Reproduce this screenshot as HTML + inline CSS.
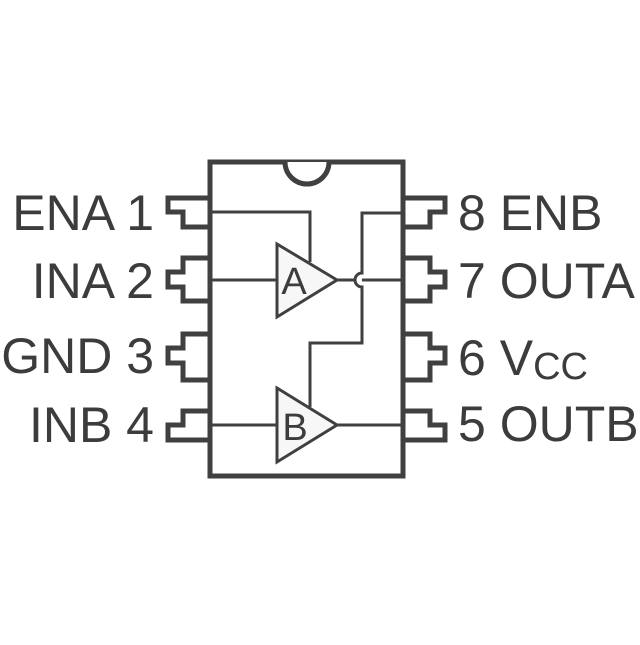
<!DOCTYPE html>
<html><head><style>html,body{margin:0;padding:0;background:#fff}</style></head>
<body>
<svg width="640" height="640" viewBox="0 0 640 640" xmlns="http://www.w3.org/2000/svg">
<g fill="none" stroke="#404040" stroke-width="5" stroke-linejoin="miter">
<rect x="210" y="162" width="193" height="314" fill="#fff"/>
<path d="M285 162 A22 22 0 0 0 329 162" fill="#fff"/>
<path d="M210 198 H168 V212 H183 V227 H210"/>
<path d="M210 258 H183 V272 H168 V287 H183 V301 H210"/>
<path d="M210 334 H183 V348 H168 V363 H183 V380 H210"/>
<path d="M210 411 H183 V425 H168 V440 H210"/>
<path d="M403 198 H445 V212 H430 V227 H403"/>
<path d="M403 258 H430 V272 H445 V287 H430 V301 H403"/>
<path d="M403 334 H430 V348 H445 V363 H430 V380 H403"/>
<path d="M403 411 H430 V425 H445 V440 H403"/>
<g stroke-width="3">
<path d="M210 212 H310 V262"/>
<path d="M210 280 H277"/>
<path d="M337 280 H356 M362 280 H403"/>
<path d="M403 213 H362 V273 A7 7 0 0 0 362 287 V343 H310 V407"/>
<path d="M210 425 H277"/>
<path d="M337 425 H403"/>
<path d="M277 244 L337 280 L277 317 Z" fill="#f7f7f7"/>
<path d="M277 388 L337 425 L277 462 Z" fill="#f7f7f7"/>
</g>
</g>
<g font-family="Liberation Sans, sans-serif" fill="#3c3c3c">
<text x="294" y="294" font-size="38" text-anchor="middle">A</text>
<text x="295" y="440" font-size="38" text-anchor="middle">B</text>
<g font-size="50" text-anchor="end">
<text x="154" y="230">ENA 1</text>
<text x="154" y="298">INA 2</text>
<text x="154" y="373">GND 3</text>
<text x="154" y="442">INB 4</text>
</g>
<g font-size="50">
<text x="458" y="230">8 ENB</text>
<text x="458" y="298">7 OUTA</text>
<text x="458" y="375">6 V<tspan font-size="38" dy="4">CC</tspan></text>
<text x="458" y="441">5 OUTB</text>
</g>
</g>
</svg>
</body></html>
